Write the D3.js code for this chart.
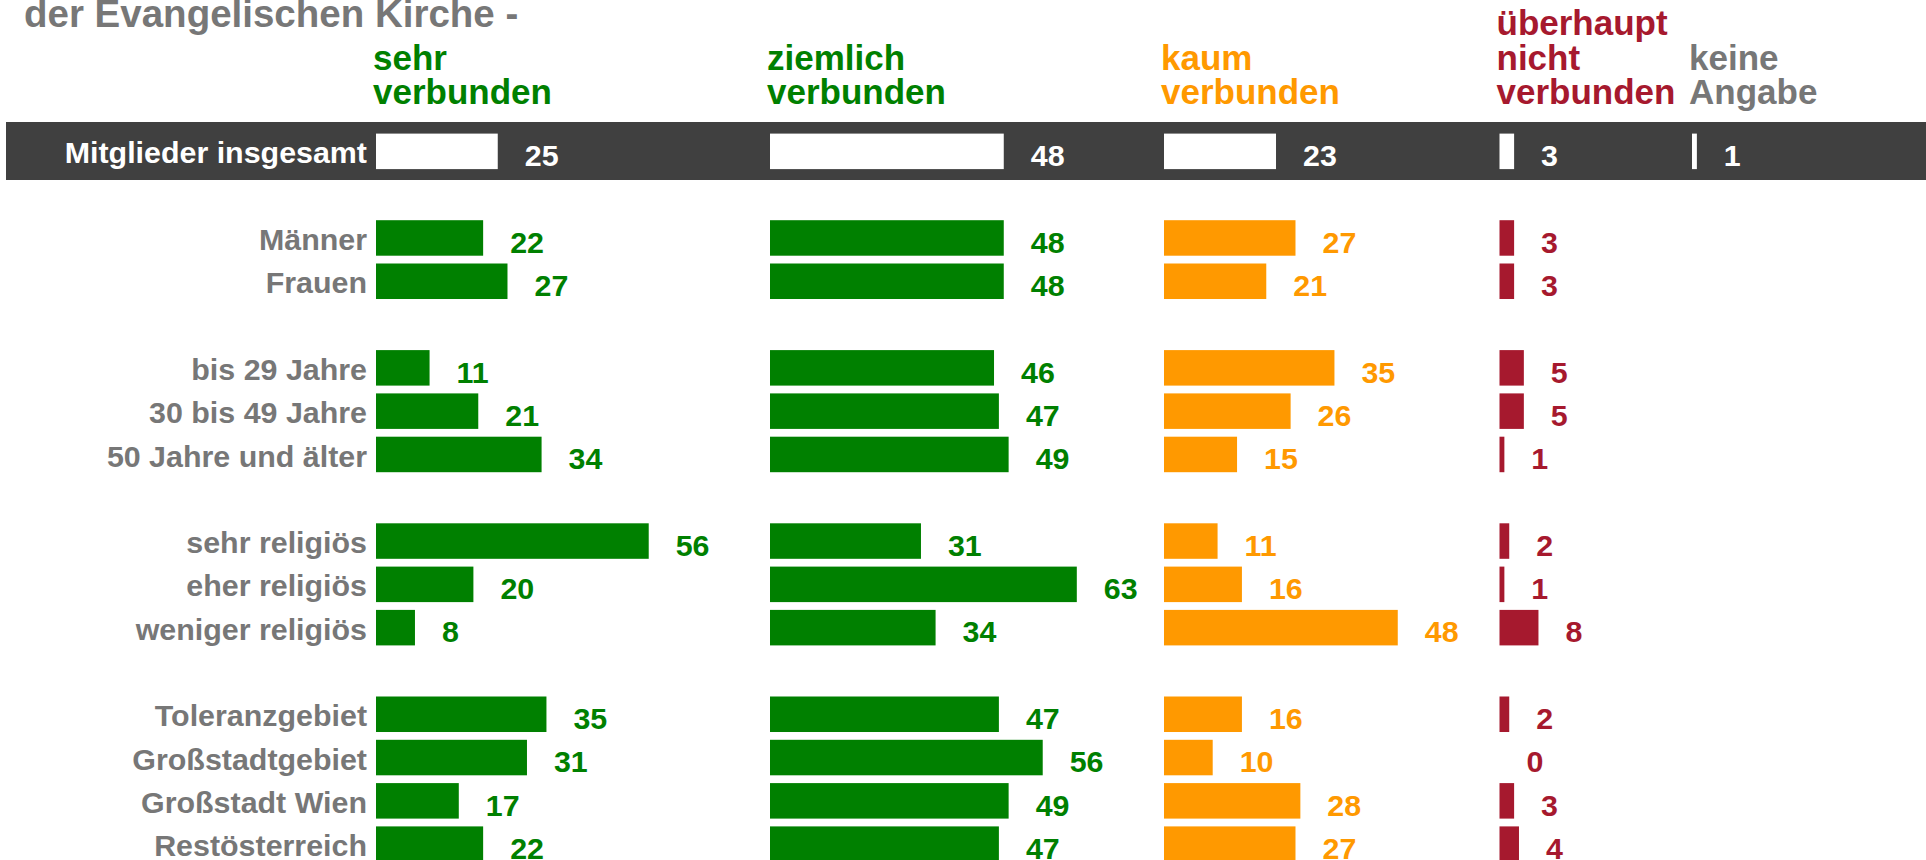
<!DOCTYPE html>
<html>
<head>
<meta charset="utf-8">
<script src="https://cdn.jsdelivr.net/npm/d3@7"></script>
<style>
  body { margin: 0; background: #fff; }
  svg { display: block; font-family: "Liberation Sans", Arial, sans-serif; font-weight: bold; }
</style>
</head>
<body>
<svg width="1926" height="860"></svg>
<script>

var titleLine = "der Evangelischen Kirche -";

var categories = ["Männer", "Frauen",
                  "bis 29 Jahre", "30 bis 49 Jahre", "50 Jahre und älter",
                  "sehr religiös", "eher religiös", "weniger religiös",
                  "Toleranzgebiet", "Großstadtgebiet", "Großstadt Wien", "Restösterreich"];
var groups = [0, 0, 1, 1, 1, 2, 2, 2, 3, 3, 3, 3];

var seriesNames = [["sehr", "verbunden"], ["ziemlich", "verbunden"], ["kaum", "verbunden"],
                   ["überhaupt", "nicht", "verbunden"], ["keine", "Angabe"]];
var seriesColors = ["#008000", "#008000", "#ff9900", "#a6192e", "#777777"];

var sehr       = [22, 27, 11, 21, 34, 56, 20, 8, 35, 31, 17, 22];
var ziemlich   = [48, 48, 46, 47, 49, 31, 63, 34, 47, 56, 49, 47];
var kaum       = [27, 21, 35, 26, 15, 11, 16, 48, 16, 10, 28, 27];
var ueberhaupt = [3, 3, 5, 5, 1, 2, 1, 8, 2, 0, 3, 4];
var keineAngabe = [null, null, null, null, null, null, null, null, null, null, null, null];

var totalLabel = "Mitglieder insgesamt";
var totalValues = [25, 48, 23, 3, 1];

var series = [sehr, ziemlich, kaum, ueberhaupt, keineAngabe];

var svg = d3.select("svg");
var grey = "#777777";
var band = "#404040";

// column start of each answer
var colX = [376, 770, 1164, 1499.5, 1692];
var labelRight = 367;
var valueGap = 27;

// rows: the total sits two slots above, empty slot between groups
var slots = [];
categories.forEach(function(c, i) {
  if (i > 0 && groups[i] != groups[i - 1]) slots.push("gap" + i);
  slots.push(c);
});
var step = 43.3;
var y = d3.scaleBand()
  .domain(["__total", "__sp"].concat(slots))
  .range([133.6 - 0.09 * step, 133.6 - 0.09 * step + step * (slots.length + 2)])
  .paddingInner(0.18)
  .paddingOuter(0.09);

var x = d3.scaleLinear().domain([0, 100]).range([0, 487]);

// title (second line, first one is above the crop)
svg.append("text")
  .attr("x", 24)
  .attr("y", 27)
  .attr("font-size", "38.5px")
  .attr("fill", grey)
  .text(titleLine);

// column headers, bottom aligned
seriesNames.forEach(function(lines, k) {
  var t = svg.append("text")
    .attr("font-size", "35px")
    .attr("fill", seriesColors[k]);
  lines.forEach(function(l, j) {
    t.append("tspan")
      .attr("x", colX[k] - 3)
      .attr("y", 104 - (lines.length - 1 - j) * 34.5)
      .text(l);
  });
});

// dark band for the total row
svg.append("rect")
  .attr("x", 6)
  .attr("y", 122)
  .attr("width", 1926 - 6)
  .attr("height", 58)
  .attr("fill", band);

svg.append("text")
  .attr("x", labelRight)
  .attr("y", y("__total") + 29.8)
  .attr("text-anchor", "end")
  .attr("font-size", "30.4px")
  .attr("fill", "#fff")
  .text(totalLabel);

var tot = svg.append("g").attr("class", "total");
tot.selectAll("rect")
  .data(totalValues)
  .enter().append("rect")
  .attr("x", function(d, k) { return colX[k]; })
  .attr("y", y("__total"))
  .attr("width", function(d) { return x(d); })
  .attr("height", y.bandwidth())
  .attr("fill", "#fff");

tot.selectAll("text")
  .data(totalValues)
  .enter().append("text")
  .attr("x", function(d, k) { return colX[k] + x(d) + valueGap; })
  .attr("y", y("__total") + 32)
  .attr("font-size", "30.4px")
  .attr("fill", "#fff")
  .text(function(d) { return d; });

// row labels
svg.append("g")
  .selectAll("text")
  .data(categories)
  .enter().append("text")
  .attr("x", labelRight)
  .attr("y", function(d) { return y(d) + 29.8; })
  .attr("text-anchor", "end")
  .attr("font-size", "30.4px")
  .attr("fill", grey)
  .text(function(d) { return d; });

// bars and values per answer
series.forEach(function(vals, k) {
  var data = vals.map(function(v, i) { return {key: categories[i], value: v}; })
                 .filter(function(d) { return d.value != null; });
  var g = svg.append("g").attr("class", "col" + k);

  g.selectAll("rect")
    .data(data.filter(function(d) { return d.value > 0; }))
    .enter().append("rect")
    .attr("x", colX[k])
    .attr("y", function(d) { return y(d.key); })
    .attr("width", function(d) { return x(d.value); })
    .attr("height", y.bandwidth())
    .attr("fill", seriesColors[k]);

  g.selectAll("text")
    .data(data)
    .enter().append("text")
    .attr("x", function(d) { return colX[k] + x(d.value) + valueGap; })
    .attr("y", function(d) { return y(d.key) + 32.5; })
    .attr("font-size", "30.4px")
    .attr("fill", seriesColors[k])
    .text(function(d) { return d.value; });
});

</script>
</body>
</html>
